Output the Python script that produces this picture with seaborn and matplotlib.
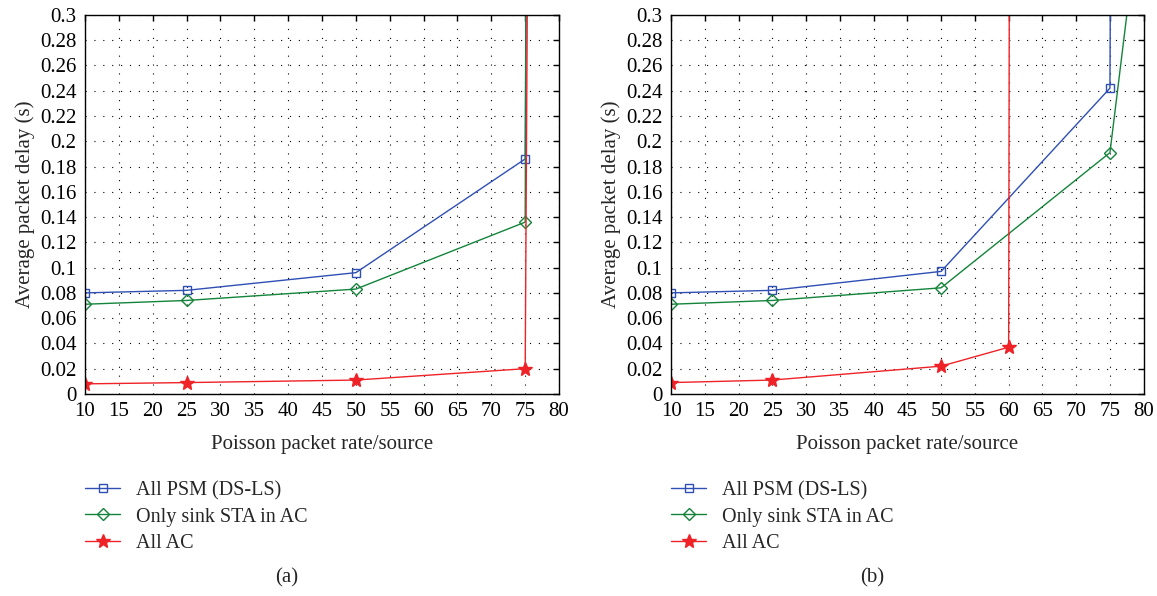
import matplotlib
matplotlib.use("Agg")
import matplotlib.pyplot as plt
import seaborn as sns
import numpy as np
import pandas as pd

# ---- data ----
rate_a = [10, 25, 50, 75, 80]
psm_a = [0.080, 0.082, 0.096, 0.186, 5.9]
sink_a = [0.071, 0.074, 0.083, 0.136, 8.3]
ac_a = [0.008, 0.009, 0.011, 0.020, 4.69]

rate_b = [10, 25, 50, 75, 80]
psm_b = [0.080, 0.082, 0.097, 0.242, 6.0]
sink_b = [0.071, 0.074, 0.084, 0.191, 0.409]
rate_b_ac = [10, 25, 50, 60, 80]
ac_b = [0.009, 0.011, 0.022, 0.037, 60.0]

series_names = ["All PSM (DS-LS)", "Only sink STA in AC", "All AC"]
colors = ["#2f4fb4", "#13843a", "#ee2227"]
markers = ["s", "D", "*"]
msizes = [6, 6, 10]
mfaces = ["none", "none", "#ee2227"]

xticks = list(range(10, 81, 5))
yticks = [round(0.02 * i, 2) for i in range(16)]
ytick_labels = ["0"] + ["%g" % v for v in yticks[1:]]

sns.set_style("white")
plt.rcParams["font.family"] = ["Liberation Serif", "DejaVu Serif"]
plt.rcParams["font.size"] = 15

fig = plt.figure(figsize=(11.57, 5.96), dpi=100)
ax_a = fig.add_axes([0.0735, 0.339, 0.4097, 0.636])
ax_b = fig.add_axes([0.58, 0.339, 0.4085, 0.636])

panels = [
    (ax_a, [(rate_a, psm_a), (rate_a, sink_a), (rate_a, ac_a)], "(a)"),
    (ax_b, [(rate_b, psm_b), (rate_b, sink_b), (rate_b_ac, ac_b)], "(b)"),
]

for ax, data, cap in panels:
    for (xs, ys), name, c, m, ms, mf in zip(data, series_names, colors, markers, msizes, mfaces):
        df = pd.DataFrame({"x": xs, "y": ys})
        sns.lineplot(data=df, x="x", y="y", ax=ax, color=c, marker=m,
                     markersize=ms, markerfacecolor=mf, markeredgecolor=c,
                     markeredgewidth=1.0, linewidth=1.0, label=name,
                     sort=False, estimator=None)
    ax.set_xlim(10, 80)
    ax.set_ylim(0, 0.3)
    ax.set_xticks(xticks)
    ax.set_yticks(yticks)
    ax.set_yticklabels(ytick_labels)
    ax.grid(True, color="black", linestyle=(0, (1, 7)), linewidth=0.8)
    ax.tick_params(direction="in", length=4, width=1.0, top=True, right=True,
                   labelsize=15, pad=6, colors="black")
    for s in ax.spines.values():
        s.set_color("black")
        s.set_linewidth(1.0)
    ax.set_xlabel("Poisson packet rate/source", fontsize=15, labelpad=10)
    ax.set_ylabel("Average packet delay (s)", fontsize=15, labelpad=4)
    leg = ax.legend(loc="upper left", bbox_to_anchor=(0.0, -0.23), frameon=False,
                    borderaxespad=0, borderpad=0, handlelength=1.75,
                    handletextpad=0.8, labelspacing=0.35, fontsize=14.5)
    pos = ax.get_position()
    fig.text(pos.x0 + pos.width * 0.425, 0.03, cap, ha="center", va="center", fontsize=15)

fig.savefig("out.png", dpi=100)
